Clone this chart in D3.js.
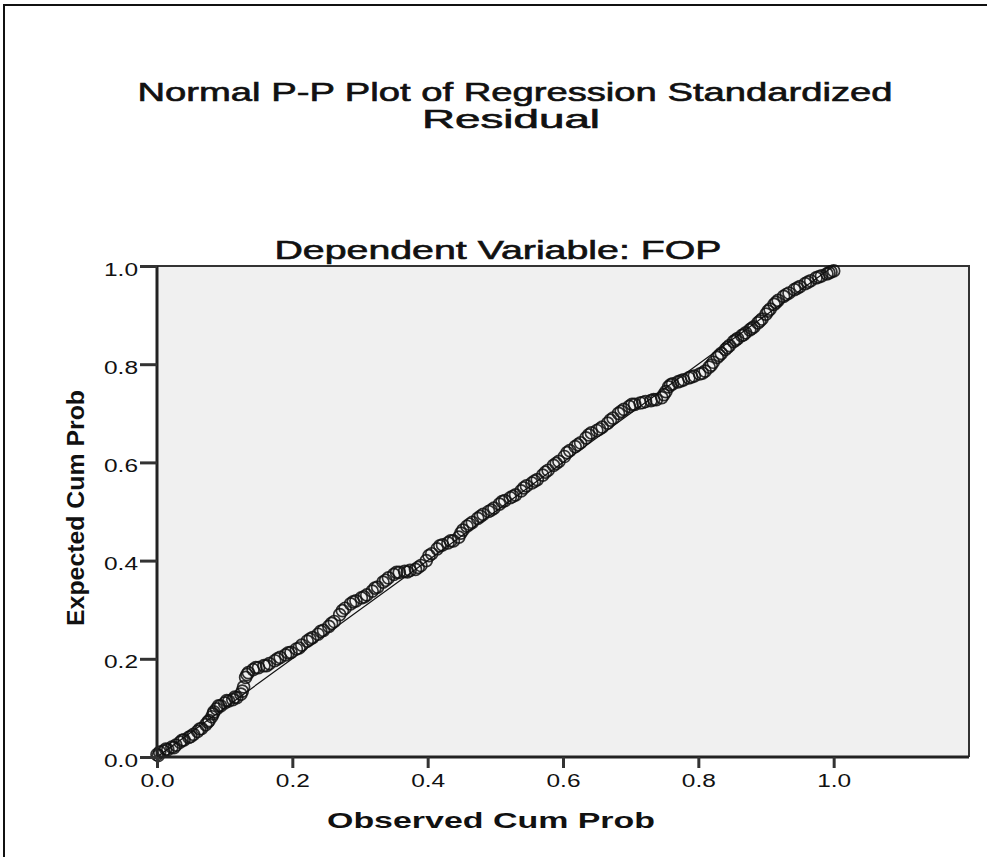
<!DOCTYPE html>
<html>
<head>
<meta charset="utf-8">
<script src="https://cdn.jsdelivr.net/npm/d3@7"></script>
<style>
  html, body { margin: 0; padding: 0; background: #fff; }
  svg { display: block; }
  text { font-family: "Liberation Sans", Arial, sans-serif; fill: #111; }
</style>
</head>
<body>
<svg id="chart" width="987" height="857"></svg>
<script>
// ---- Data ----
const titleLines = ["Normal P-P Plot of Regression Standardized", "Residual"];
const subtitle = "Dependent Variable: FOP";
const xAxisTitle = "Observed Cum Prob";
const yAxisTitle = "Expected Cum Prob";
const xTickValues = [0.0, 0.2, 0.4, 0.6, 0.8, 1.0];
const yTickValues = [0.0, 0.2, 0.4, 0.6, 0.8, 1.0];
const referenceLine = [[0, 0], [1, 1]];

const observedCumProb = [
  0.000,0.004,0.010,0.016,0.022,0.028,0.034,0.040,0.047,0.054,
  0.060,0.066,0.072,0.077,0.081,0.084,0.088,0.094,0.100,0.106,
  0.112,0.118,0.124,0.128,0.131,0.135,0.142,0.150,0.158,0.166,
  0.174,0.182,0.190,0.198,0.206,0.214,0.222,0.230,0.238,0.246,
  0.254,0.262,0.270,0.278,0.286,0.294,0.302,0.310,0.318,0.326,
  0.334,0.342,0.350,0.358,0.366,0.374,0.382,0.390,0.398,0.406,
  0.414,0.422,0.430,0.438,0.446,0.452,0.458,0.466,0.474,0.482,
  0.490,0.498,0.506,0.514,0.522,0.530,0.538,0.546,0.554,0.562,
  0.570,0.578,0.586,0.594,0.602,0.610,0.618,0.626,0.634,0.642,
  0.650,0.658,0.666,0.674,0.682,0.690,0.698,0.706,0.714,0.722,
  0.730,0.738,0.746,0.752,0.756,0.762,0.770,0.778,0.786,0.794,
  0.802,0.810,0.816,0.822,0.828,0.834,0.840,0.846,0.852,0.858,
  0.864,0.870,0.876,0.882,0.888,0.894,0.900,0.906,0.912,0.918,
  0.926,0.934,0.942,0.950,0.958,0.966,0.974,0.982,0.990,0.996,
  1.000,
  0.002,0.013,0.025,0.037,0.050,0.063,0.075,0.083,0.091,0.103,
  0.115,0.126,0.133,0.146,0.162,0.178,0.194,0.210,0.226,0.242,
  0.258,0.274,0.290,0.306,0.322,0.338,0.354,0.370,0.386,0.402,
  0.418,0.434,0.449,0.462,0.478,0.494,0.510,0.526,0.542,0.558,
  0.574,0.590,0.606,0.622,0.638,0.654,0.670,0.686,0.702,0.718,
  0.734,0.749,0.759,0.774,0.790,0.806,0.819,0.831,0.843,0.855,
  0.867,0.879,0.891,0.903,0.915,0.930,0.946,0.962,0.978,0.993
];
const expectedCumProb = [
  0.005,0.010,0.012,0.015,0.020,0.024,0.030,0.035,0.040,0.046,
  0.052,0.058,0.066,0.074,0.082,0.092,0.098,0.104,0.110,0.114,
  0.117,0.121,0.128,0.143,0.162,0.172,0.178,0.182,0.186,0.190,
  0.196,0.203,0.208,0.213,0.220,0.228,0.236,0.243,0.250,0.258,
  0.266,0.276,0.290,0.303,0.312,0.318,0.324,0.330,0.338,0.346,
  0.356,0.365,0.372,0.376,0.378,0.380,0.382,0.390,0.400,0.414,
  0.424,0.432,0.436,0.440,0.448,0.462,0.470,0.478,0.486,0.494,
  0.500,0.507,0.515,0.522,0.528,0.534,0.542,0.552,0.558,0.565,
  0.574,0.584,0.594,0.602,0.612,0.624,0.632,0.640,0.650,0.660,
  0.665,0.672,0.680,0.690,0.700,0.708,0.714,0.718,0.721,0.724,
  0.726,0.728,0.732,0.744,0.754,0.760,0.764,0.768,0.772,0.776,
  0.780,0.786,0.794,0.804,0.814,0.822,0.830,0.838,0.846,0.852,
  0.858,0.864,0.870,0.876,0.884,0.892,0.902,0.912,0.922,0.930,
  0.938,0.945,0.952,0.958,0.964,0.970,0.976,0.980,0.984,0.988,
  0.990,
  0.003,0.016,0.019,0.034,0.042,0.057,0.071,0.088,0.104,0.115,
  0.122,0.134,0.168,0.182,0.186,0.200,0.212,0.222,0.240,0.256,
  0.272,0.298,0.316,0.326,0.344,0.360,0.376,0.377,0.386,0.410,
  0.430,0.440,0.456,0.474,0.490,0.503,0.520,0.531,0.548,0.562,
  0.580,0.598,0.620,0.636,0.656,0.668,0.686,0.704,0.718,0.722,
  0.728,0.738,0.758,0.766,0.774,0.782,0.798,0.818,0.834,0.849,
  0.860,0.873,0.888,0.908,0.926,0.942,0.955,0.967,0.978,0.986
];

// ---- Layout ----
const svg = d3.select("#chart");
const plot = { left: 157, top: 266, right: 969, bottom: 757 };

const x = d3.scaleLinear().domain([0, 1.2]).range([plot.left, plot.right]);
const y = d3.scaleLinear().domain([0, 1]).range([plot.bottom, plot.top]);

// outer frame
svg.append("rect")
  .attr("x", 4).attr("y", 5).attr("width", 1100).attr("height", 1000)
  .attr("fill", "#fff").attr("stroke", "#111").attr("stroke-width", 2);

// titles
const titleStyle = sel => sel.attr("text-anchor", "middle")
  .style("font-size", "25px")
  .attr("stroke", "#111").attr("stroke-width", 0.6)
  .attr("lengthAdjust", "spacingAndGlyphs");
svg.append("text").attr("x", 515).attr("y", 101).call(titleStyle)
  .attr("textLength", 755).text(titleLines[0]);
svg.append("text").attr("x", 511).attr("y", 128).call(titleStyle)
  .attr("textLength", 178).text(titleLines[1]);
svg.append("text").attr("x", 498).attr("y", 259).call(titleStyle)
  .attr("textLength", 447).text(subtitle);

// plot background
svg.append("rect")
  .attr("x", plot.left).attr("y", plot.top)
  .attr("width", plot.right - plot.left).attr("height", plot.bottom - plot.top)
  .attr("fill", "#f0f0f0");

// top & right frame lines
svg.append("path")
  .attr("d", `M${plot.left},${plot.top}H${plot.right}V${plot.bottom}`)
  .attr("fill", "none").attr("stroke", "#333").attr("stroke-width", 2);

// reference line
svg.append("line")
  .attr("x1", x(referenceLine[0][0])).attr("y1", y(referenceLine[0][1]))
  .attr("x2", x(referenceLine[1][0])).attr("y2", y(referenceLine[1][1]))
  .attr("stroke", "#111").attr("stroke-width", 1.2);

// points
const pts = observedCumProb.map((v, i) => [v, expectedCumProb[i]]);
svg.append("g").selectAll("circle").data(pts).join("circle")
  .attr("cx", d => x(d[0])).attr("cy", d => y(d[1]))
  .attr("r", 6)
  .attr("fill", "none").attr("stroke", "#111").attr("stroke-width", 1.7)
  .attr("stroke-opacity", 0.85);

// axes
const fmt = d3.format(".1f");
const yAxis = svg.append("g").attr("transform", `translate(${plot.left},0)`)
  .call(d3.axisLeft(y).tickValues(yTickValues).tickFormat(fmt).tickSize(17).tickSizeOuter(0).tickPadding(2));
const xAxis = svg.append("g").attr("transform", `translate(0,${plot.bottom})`)
  .call(d3.axisBottom(x).tickValues(xTickValues).tickFormat(fmt).tickSize(11).tickSizeOuter(0).tickPadding(6));

[yAxis, xAxis].forEach(g => {
  g.select(".domain").attr("stroke", "#222").attr("stroke-width", 3);
  g.selectAll(".tick line").attr("stroke", "#333").attr("stroke-width", 3);
  g.selectAll(".tick text")
    .style("font-family", '"Liberation Sans", Arial, sans-serif')
    .style("font-size", "18px").attr("fill", "#222")
    .attr("textLength", 34).attr("lengthAdjust", "spacingAndGlyphs");
});
xAxis.selectAll(".tick text").attr("dy", null).attr("y", 30);
yAxis.selectAll(".tick text").attr("dy", "0.5em").attr("x", -19);
xAxis.select(".domain").attr("d", `M${plot.left},0H${plot.right}`);
yAxis.select(".domain").attr("d", `M0,${plot.bottom + 1}V${plot.top}`);

// axis titles
svg.append("text").attr("x", 491).attr("y", 828)
  .attr("text-anchor", "middle").style("font-size", "22px").style("font-weight", "bold")
  .attr("textLength", 328).attr("lengthAdjust", "spacingAndGlyphs")
  .text(xAxisTitle);
svg.append("text")
  .attr("transform", "translate(84,508) rotate(-90)")
  .attr("text-anchor", "middle").style("font-size", "24px").style("font-weight", "bold")
  .attr("textLength", 236).attr("lengthAdjust", "spacingAndGlyphs")
  .text(yAxisTitle);
</script>
</body>
</html>
